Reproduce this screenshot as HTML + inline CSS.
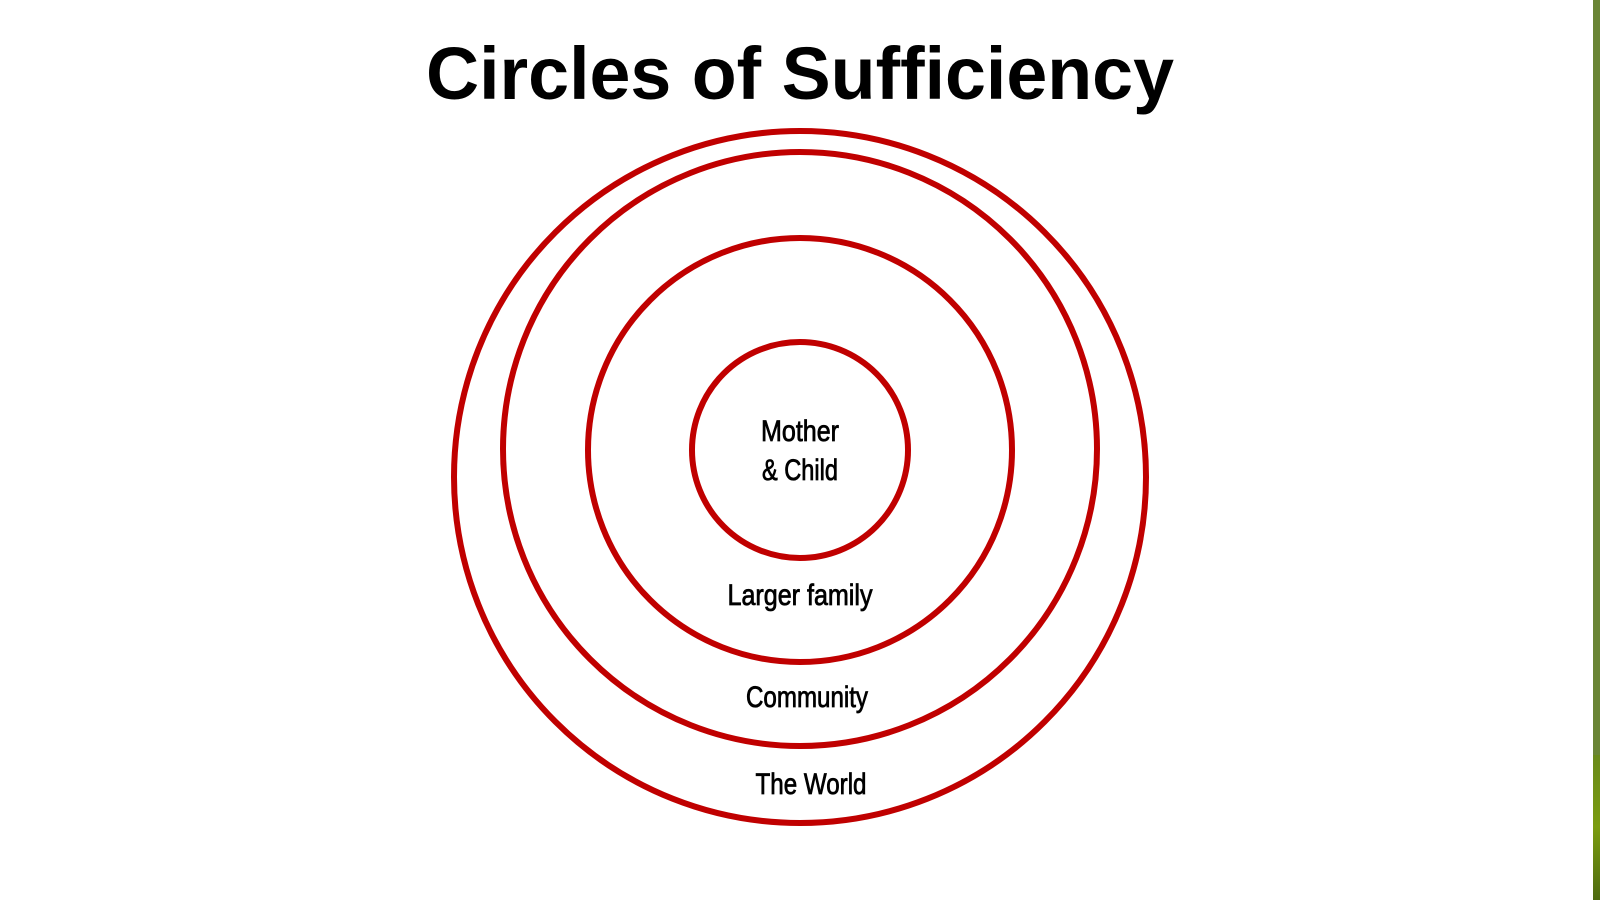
<!DOCTYPE html>
<html><head><meta charset="utf-8"><style>
html,body{margin:0;padding:0;background:#fff;}
svg{display:block;}
</style></head><body>
<svg width="1600" height="900" viewBox="0 0 1600 900" xmlns="http://www.w3.org/2000/svg">
<defs>
<linearGradient id="g" x1="0" y1="0" x2="0" y2="1">
<stop offset="0" stop-color="#6a8a1a"/>
<stop offset="0.5" stop-color="#7a9c10"/>
<stop offset="1" stop-color="#4e6a10"/>
</linearGradient>
</defs>
<rect x="0" y="0" width="1600" height="900" fill="#fff"/>
<rect x="1593" y="0" width="7" height="755" fill="#6a8535"/>
<rect x="1593" y="755" width="7" height="145" fill="url(#g)"/>
<text x="800" y="99" text-anchor="middle" font-family="Liberation Sans, sans-serif" font-weight="bold" font-size="74" textLength="748" lengthAdjust="spacingAndGlyphs" fill="#000">Circles of Sufficiency</text>
<g fill="none" stroke="#c00000" stroke-width="6">
<circle cx="800" cy="477" r="346"/>
<circle cx="800" cy="449" r="297"/>
<circle cx="800" cy="450" r="212"/>
<circle cx="800" cy="450" r="108"/>
</g>
<g font-family="Liberation Sans, sans-serif" font-size="30" fill="#000" stroke="#000" stroke-width="0.8" text-anchor="middle">
<text x="800" y="441" textLength="78" lengthAdjust="spacingAndGlyphs">Mother</text>
<text x="800" y="480" textLength="76" lengthAdjust="spacingAndGlyphs">&amp; Child</text>
<text x="800" y="605" textLength="145" lengthAdjust="spacingAndGlyphs">Larger family</text>
<text x="807" y="707" textLength="122" lengthAdjust="spacingAndGlyphs">Community</text>
<text x="811" y="794" textLength="111" lengthAdjust="spacingAndGlyphs">The World</text>
</g>
</svg>
</body></html>
